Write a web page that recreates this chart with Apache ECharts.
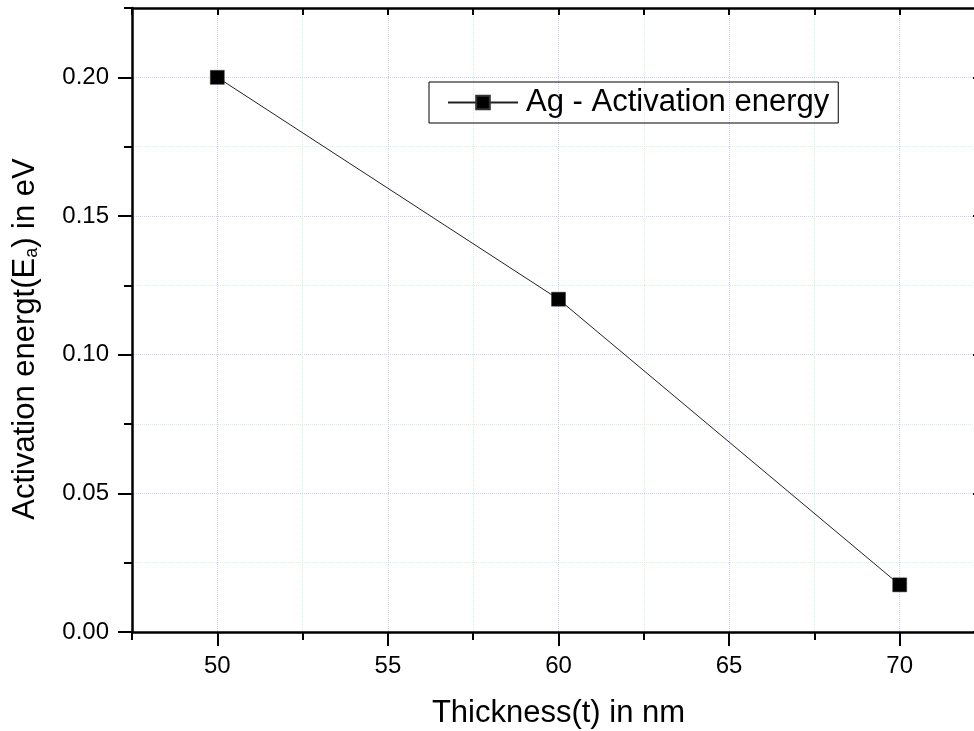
<!DOCTYPE html>
<html>
<head>
<meta charset="utf-8">
<script src="https://cdn.jsdelivr.net/npm/echarts@6/dist/echarts.min.js"></script>
<style>
html,body{margin:0;padding:0;background:#fff;}
#chart{width:974px;height:731px;}
</style>
</head>
<body>
<div id="chart"></div>
<script>
// ---- data ----
const thickness = [50, 60, 70];
const activationEnergy = [0.20, 0.12, 0.017];
const seriesName = 'Ag - Activation energy';
const xMajorTicks = [50, 55, 60, 65, 70];
const yMajorTicks = [0.00, 0.05, 0.10, 0.15, 0.20];
const xTitle = 'Thickness(t) in nm';
const yTitle = 'Activation energt(E{sub|a}) in eV';

const FONT = 'Liberation Sans, Arial, sans-serif';
const MAJOR_GRID = '#cfcff5';
const MINOR_GRID = '#d6f2d6';
const X_MIN = 47.5, X_MAX = 72.5, X_STEP = 2.5;
const Y_MIN = 0, Y_MAX = 0.225, Y_STEP = 0.025;

const gridBox = {left: 132, top: 8, right: -11, bottom: 99, containLabel: false, outerBoundsMode: 'none'};

const chart = echarts.init(document.getElementById('chart'), null, {renderer: 'canvas'});

function baseX(extra) {
  return Object.assign({
    type: 'value', min: X_MIN, max: X_MAX, interval: X_STEP,
    axisLine: {show: false},
    axisLabel: {show: false},
    splitLine: {show: false},
    axisTick: {show: false}
  }, extra);
}
function baseY(extra) {
  return Object.assign({
    type: 'value', min: Y_MIN, max: Y_MAX, interval: Y_STEP,
    axisLine: {show: false},
    axisLabel: {show: false},
    splitLine: {show: false},
    axisTick: {show: false}
  }, extra);
}

const option = {
  animation: false,
  backgroundColor: '#ffffff',
  grid: [
    Object.assign({}, gridBox),
    Object.assign({}, gridBox)
  ],
  legend: {
    show: true,
    left: 429, top: 82,
    orient: 'horizontal',
    padding: [5, 9, 5, 18],
    borderColor: '#000', borderWidth: 1,
    itemWidth: 70, itemHeight: 17,
    textStyle: {fontSize: 31, color: '#000', fontFamily: FONT, padding: [0, 0, 0, 3]},
    data: [seriesName]
  },
  xAxis: [
    baseX({
      gridIndex: 0, position: 'bottom',
      axisLine: {show: true, onZero: false, lineStyle: {color: '#000', width: 2.5}},
      axisTick: {show: true, inside: false, length: 8, lineStyle: {color: '#000', width: 2}},
      axisLabel: {show: true, customValues: xMajorTicks, margin: 22, fontSize: 24, color: '#000', fontFamily: FONT},
      splitLine: {show: true, lineStyle: {color: [MINOR_GRID, MAJOR_GRID], type: 'dotted', width: 1}},
      name: xTitle, nameLocation: 'middle', nameGap: 66,
      nameTextStyle: {fontSize: 31, color: '#000', fontFamily: FONT}
    }),
    baseX({
      gridIndex: 0, position: 'top',
      axisLine: {show: true, onZero: false, lineStyle: {color: '#000', width: 2.5}},
      axisTick: {show: true, inside: true, length: 7, lineStyle: {color: '#000', width: 2}}
    }),
    baseX({
      gridIndex: 1, position: 'bottom',
      axisTick: {show: true, inside: false, length: 14, customValues: xMajorTicks, lineStyle: {color: '#000', width: 2}}
    }),
    baseX({
      gridIndex: 1, position: 'top',
      axisTick: {show: true, inside: true, length: 12, customValues: xMajorTicks, lineStyle: {color: '#000', width: 2}}
    })
  ],
  yAxis: [
    baseY({
      gridIndex: 0, position: 'left',
      axisLine: {show: true, onZero: false, lineStyle: {color: '#000', width: 2.5}},
      axisTick: {show: true, inside: false, length: 8, lineStyle: {color: '#000', width: 2}},
      axisLabel: {show: true, customValues: yMajorTicks, margin: 23, fontSize: 24, color: '#000', fontFamily: FONT,
        formatter: v => Number(v).toFixed(2)},
      splitLine: {show: true, lineStyle: {color: [MAJOR_GRID, MINOR_GRID], type: 'dotted', width: 1}},
      name: yTitle, nameLocation: 'middle', nameGap: 91, nameRotate: 90,
      nameTextStyle: {
        fontSize: 31, color: '#000', fontFamily: FONT,
        padding: [0, 38, 0, 0],
        rich: {sub: {fontSize: 18, color: '#000', fontFamily: FONT, verticalAlign: 'bottom', padding: [12, 0, 0, 0]}}
      }
    }),
    baseY({
      gridIndex: 0, position: 'right',
      axisLine: {show: true, onZero: false, lineStyle: {color: '#000', width: 2.5}},
      axisTick: {show: true, inside: true, length: 7, lineStyle: {color: '#000', width: 2}}
    }),
    baseY({
      gridIndex: 1, position: 'left',
      axisTick: {show: true, inside: false, length: 14, customValues: yMajorTicks, lineStyle: {color: '#000', width: 2}}
    }),
    baseY({
      gridIndex: 1, position: 'right',
      axisTick: {show: true, inside: true, length: 12, customValues: yMajorTicks, lineStyle: {color: '#000', width: 2}}
    })
  ],
  series: [{
    name: seriesName,
    type: 'line',
    xAxisIndex: 0, yAxisIndex: 0,
    data: thickness.map((t, i) => [t, activationEnergy[i]]),
    symbol: 'rect',
    symbolSize: 14,
    showSymbol: true,
    lineStyle: {color: '#222', width: 1},
    itemStyle: {color: '#000', borderColor: '#333', borderWidth: 0.5},
    z: 5
  }]
};

chart.setOption(option);
</script>
</body>
</html>
